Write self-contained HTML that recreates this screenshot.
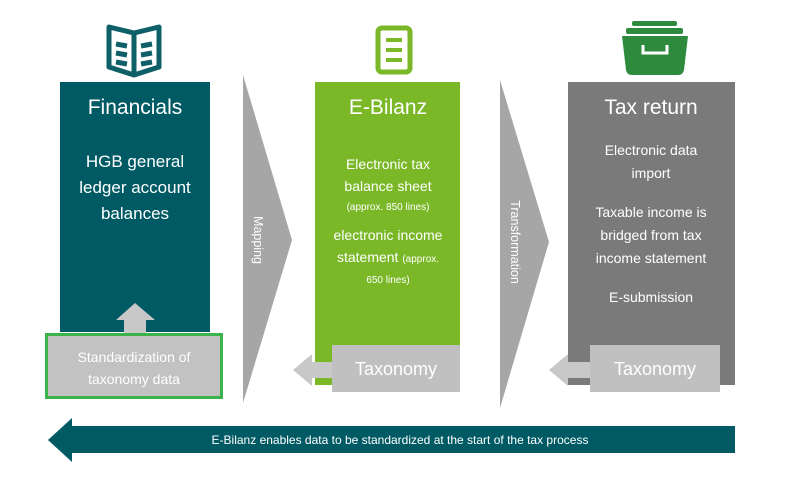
<!DOCTYPE html>
<html><head><meta charset="utf-8"><style>
html,body{margin:0;padding:0;background:#fff;width:800px;height:487px;overflow:hidden}
svg{display:block}
text{font-family:"Liberation Sans",sans-serif;fill:#fff}
</style></head><body>
<svg width="800" height="487" viewBox="0 0 800 487">
<g fill="none" stroke="#0e5f68" stroke-width="5" stroke-linejoin="round">
<path d="M109 27 L134 33 L159 27 L159 67 L134 75 L109 67 Z"/>
<line x1="134" y1="33" x2="134" y2="75"/>
<line x1="116" y1="44" x2="127" y2="46"/><line x1="116" y1="53" x2="127" y2="55"/><line x1="116" y1="62" x2="127" y2="64"/>
<line x1="141" y1="46" x2="152" y2="44"/><line x1="141" y1="55" x2="152" y2="53"/><line x1="141" y1="64" x2="152" y2="62"/>
</g>
<rect x="378" y="28" width="32" height="44" rx="4" fill="none" stroke="#7ab828" stroke-width="5"/>
<g stroke="#7ab828" stroke-width="4"><line x1="386" y1="40" x2="402" y2="40"/><line x1="386" y1="50" x2="402" y2="50"/><line x1="386" y1="60" x2="402" y2="60"/></g>
<g fill="#2e8b3e">
<rect x="632" y="21" width="45" height="5" rx="2"/>
<rect x="626" y="28" width="57" height="6" rx="2"/>
<path d="M622 36 L688 36 L684 70 Q683 75 678 75 L632 75 Q627 75 626 70 Z"/>
</g>
<path d="M643 45 L643 53 L667 53 L667 45" fill="none" stroke="#fff" stroke-width="3"/>
<polygon points="243,75 292,240 243,403" fill="#a6a6a6"/>
<polygon points="500,80 549,242 500,408" fill="#a6a6a6"/>
<text transform="translate(254,240) rotate(90)" font-size="12.5" text-anchor="middle">Mapping</text>
<text transform="translate(511,242) rotate(90)" font-size="12.5" text-anchor="middle">Transformation</text>
<rect x="60" y="82" width="150" height="250" fill="#005a64"/>
<rect x="315" y="82" width="145" height="303" fill="#7ab828"/>
<rect x="568" y="82" width="167" height="303" fill="#7a7a7a"/>
<text x="135" y="114" font-size="21" text-anchor="middle">Financials</text>
<g font-size="17" text-anchor="middle"><text x="135" y="167">HGB general</text><text x="135" y="193">ledger account</text><text x="135" y="219">balances</text></g>
<text x="388" y="114" font-size="21" text-anchor="middle">E-Bilanz</text>
<g text-anchor="middle"><text x="388" y="169" font-size="14">Electronic tax</text><text x="388" y="191" font-size="14">balance sheet</text>
<text x="388" y="210" font-size="10">(approx. 850 lines)</text>
<text x="388" y="240" font-size="14">electronic income</text>
<text x="388" y="262" font-size="14">statement <tspan font-size="10">(approx.</tspan></text>
<text x="388" y="283" font-size="10">650 lines)</text></g>
<text x="651" y="114" font-size="21" text-anchor="middle">Tax return</text>
<g font-size="14" text-anchor="middle"><text x="651" y="155">Electronic data</text><text x="651" y="178">import</text>
<text x="651" y="217">Taxable income is</text><text x="651" y="240">bridged from tax</text><text x="651" y="263">income statement</text>
<text x="651" y="302">E-submission</text></g>
<polygon points="293,370 312,354 312,362 334,362 334,378 312,378 312,386" fill="#c8c8c8"/>
<rect x="332" y="345" width="128" height="47" fill="#c0c0c0"/>
<text x="396" y="375" font-size="18" text-anchor="middle">Taxonomy</text>
<polygon points="549,370 568,354 568,362 592,362 592,378 568,378 568,386" fill="#c8c8c8"/>
<rect x="590" y="345" width="130" height="47" fill="#c0c0c0"/>
<text x="655" y="375" font-size="18" text-anchor="middle">Taxonomy</text>
<polygon points="135,303 155,320 146,320 146,335 124,335 124,320 116,320" fill="#c8c8c8"/>
<rect x="46.5" y="334.5" width="175" height="63" fill="#c2c2c2" stroke="#3cb34a" stroke-width="3"/>
<g font-size="14" text-anchor="middle"><text x="134" y="362">Standardization of</text><text x="134" y="384">taxonomy data</text></g>
<polygon points="48,440 72,418 72,426 735,426 735,453 72,453 72,462" fill="#005a64"/>
<text x="400" y="444" font-size="12" text-anchor="middle">E-Bilanz enables data to be standardized at the start of the tax process</text>
</svg>
</body></html>
